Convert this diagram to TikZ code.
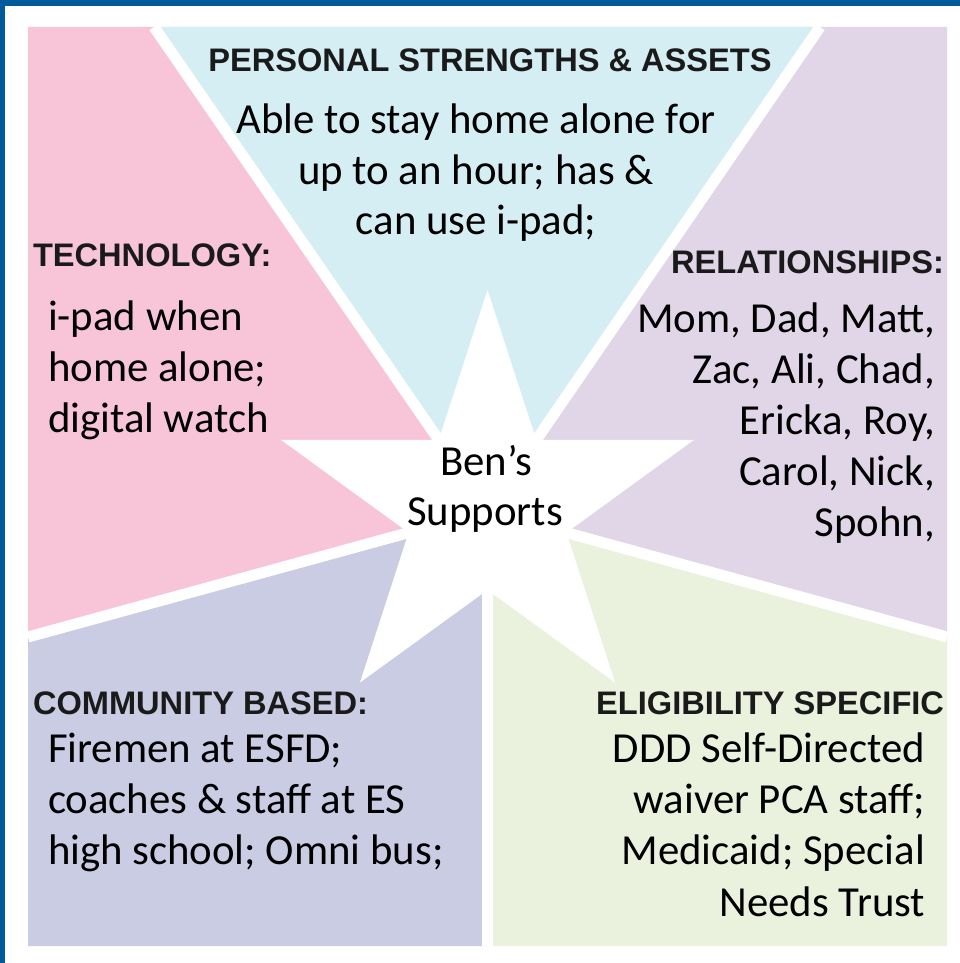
\documentclass[tikz,border=0pt]{standalone}
\usepackage{fontspec}
\setmainfont{Carlito}
\newfontfamily\headfont{Liberation Sans}
\usetikzlibrary{calc}
\definecolor{frameblue}{HTML}{005A9C}
\definecolor{techpink}{HTML}{F8C4D8}
\definecolor{perscyan}{HTML}{D5EEF3}
\definecolor{rellilac}{HTML}{E1D6E8}
\definecolor{commblue}{HTML}{C9CCE2}
\definecolor{eliggreen}{HTML}{EAF1DD}
\definecolor{headtext}{HTML}{1A1A1A}
\begin{document}
\begin{tikzpicture}[x=1pt,y=-1pt,
  every node/.style={inner sep=0pt, outer sep=0pt},
  head/.style={font=\headfont\bfseries\fontsize{32.6}{38}\selectfont, text=headtext},
  body/.style={font=\fontsize{42.8}{50}\selectfont, text=black},
  gapline/.style={white, line width=11pt},
  starfill/.style={fill=white}]
\useasboundingbox (0,0) rectangle (960,963);
\fill[white] (0,0) rectangle (960,963);
\fill[frameblue] (0,0) rectangle (960,6);
\fill[frameblue] (0,0) rectangle (5,963);

% star geometry (y axis points down, so angles are negated)
\coordinate (C) at (487.5,507);
\foreach \a in {90,162,234,306,18} { \coordinate (o\a) at ($(C)+(-\a:217)$); }
\foreach \a in {126,198,270,342,54} { \coordinate (i\a) at ($(C)+(-\a:83)$); }

% edge points of the dividing gaps
\coordinate (eTL) at (154,27);
\coordinate (eTR) at (820,27);
\coordinate (eL) at (28,637);
\coordinate (eR) at (947,637);
\coordinate (eB) at (487.5,946);

% sectors
\fill[techpink] (28,27) -- (eTL) -- (i126) -- (C) -- (i198) -- (eL) -- cycle;
\fill[perscyan] (eTL) -- (eTR) -- (i54) -- (C) -- (i126) -- cycle;
\fill[rellilac] (eTR) -- (947,27) -- (eR) -- (i342) -- (C) -- (i54) -- cycle;
\fill[eliggreen] (eR) -- (947,946) -- (eB) -- (i270) -- (C) -- (i342) -- cycle;
\fill[commblue] (eB) -- (28,946) -- (eL) -- (i198) -- (C) -- (i270) -- cycle;

% white gaps
\draw[gapline] (eTL) -- (i126);
\draw[gapline] (eTR) -- (i54);
\draw[gapline] (eL) -- (i198);
\draw[gapline] (eR) -- (i342);
\draw[gapline] (eB) -- (i270);

% star
\fill[starfill] (o90) -- (i126) -- (o162) -- (i198) -- (o234) -- (i270) -- (o306) -- (i342) -- (o18) -- (i54) -- cycle;

% texts
\node[head, anchor=base] (hp) at (490,71.5) {PERSONAL STRENGTHS \& ASSETS};
\node[body, anchor=base] (p1) at (476,134) {Able to stay home alone for};
\node[body, anchor=base] (p2) at (476,184) {up to an hour; has \&};
\node[body, anchor=base] (p3) at (476,234) {can use i-pad;};

\node[head, anchor=base west] (ht) at (33,266) {TECHNOLOGY:};
\node[body, anchor=base west] (t1) at (48,330) {i-pad when};
\node[body, anchor=base west] (t2) at (48,381) {home alone;};
\node[body, anchor=base west] (t3) at (48,432) {digital watch};

\node[head, anchor=base east] (hr) at (944,273) {RELATIONSHIPS:};
\node[body, anchor=base east] (r1) at (935,332) {Mom, Dad, Matt,};
\node[body, anchor=base east] (r2) at (935,383) {Zac, Ali, Chad,};
\node[body, anchor=base east] (r3) at (935,434) {Ericka, Roy,};
\node[body, anchor=base east] (r4) at (935,485) {Carol, Nick,};
\node[body, anchor=base east] (r5) at (935,536) {Spohn,};

\node[body, anchor=base] (b1) at (486,475) {Ben’s};
\node[body, anchor=base] (b2) at (485,525) {Supports};

\node[head, anchor=base west] (hc) at (33,714) {COMMUNITY BASED:};
\node[body, anchor=base west] (c1) at (48,762) {Firemen at ESFD;};
\node[body, anchor=base west] (c2) at (48,813) {coaches \& staff at ES};
\node[body, anchor=base west] (c3) at (48,864) {high school; Omni bus;};

\node[head, anchor=base east] (he) at (944,714) {ELIGIBILITY SPECIFIC};
\node[body, anchor=base east] (g1) at (925,762) {DDD Self-Directed};
\node[body, anchor=base east] (g2) at (925,813) {waiver PCA staff;};
\node[body, anchor=base east] (g3) at (925,864) {Medicaid; Special};
\node[body, anchor=base east] (g4) at (925,916) {Needs Trust};
\end{tikzpicture}
\end{document}
